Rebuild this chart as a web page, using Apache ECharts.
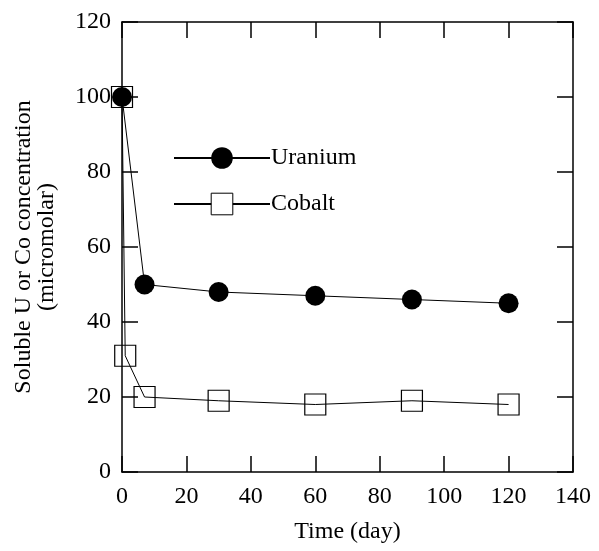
<!DOCTYPE html>
<html>
<head>
<meta charset="utf-8">
<script src="https://cdn.jsdelivr.net/npm/echarts@6/dist/echarts.min.js"></script>
<style>html,body{margin:0;padding:0;background:#fff}#c{width:599px;height:551px}</style>
</head>
<body>
<div id="c"></div>
<script>
const seriesNames = ['Uranium', 'Cobalt'];
const uraniumDays = [0, 7, 30, 60, 90, 120];
const uraniumValues = [100, 50, 48, 47, 46, 45];
const cobaltDays = [0, 1, 7, 30, 60, 90, 120];
const cobaltValues = [100, 31, 20, 19, 18, 19, 18];
const xTicks = [0, 20, 40, 60, 80, 100, 120, 140];
const yTicks = [0, 20, 40, 60, 80, 100, 120];

const FONT = 'Liberation Serif';
const FS = 24;
const chart = echarts.init(document.getElementById('c'), null, {renderer: 'canvas'});
const axisLine = {show: true, onZero: false, lineStyle: {color: '#000', width: 1.5}};
const axisTick = {show: true, inside: true, length: 16, lineStyle: {color: '#000', width: 1.5}};
const pair = (xs, ys) => xs.map((x, i) => [x, ys[i]]);

chart.setOption({
  animation: false,
  backgroundColor: '#fff',
  grid: {left: 122, right: 26, top: 22, bottom: 79, containLabel: false, outerBoundsMode: 'none'},
  legend: {
    orient: 'vertical', left: 168, top: 141,
    itemWidth: 96, itemHeight: 27, itemGap: 22,
    data: [
      {name: seriesNames[0]},
      {name: seriesNames[1], itemStyle: {color: '#fff', borderColor: '#000', borderWidth: 1}}
    ],
    textStyle: {fontFamily: FONT, fontSize: FS, color: '#000', padding: [0, 0, 0, -4]}
  },
  xAxis: [
    {type: 'value', min: xTicks[0], max: xTicks[xTicks.length - 1], interval: 20,
     axisLine, axisTick, splitLine: {show: false},
     axisLabel: {fontFamily: FONT, fontSize: FS, color: '#000', margin: 13},
     name: 'Time (day)', nameLocation: 'middle', nameGap: 48,
     nameTextStyle: {fontFamily: FONT, fontSize: FS, color: '#000'}},
    {type: 'value', position: 'top', min: 0, max: 140, interval: 20,
     axisLine, axisTick, splitLine: {show: false}, axisLabel: {show: false}}
  ],
  yAxis: [
    {type: 'value', min: yTicks[0], max: yTicks[yTicks.length - 1], interval: 20,
     axisLine, axisTick, splitLine: {show: false},
     axisLabel: {fontFamily: FONT, fontSize: FS, color: '#000', margin: 11},
     name: 'Soluble U or Co concentration\n(micromolar)', nameLocation: 'middle', nameGap: 64,
     nameTextStyle: {fontFamily: FONT, fontSize: FS, color: '#000', lineHeight: 23}},
    {type: 'value', position: 'right', min: 0, max: 120, interval: 20,
     axisLine, axisTick, splitLine: {show: false}, axisLabel: {show: false}}
  ],
  series: [
    {name: seriesNames[1], type: 'line', data: pair(cobaltDays, cobaltValues),
     symbol: 'rect', symbolSize: 21,
     lineStyle: {color: '#000', width: 1},
     itemStyle: {color: 'rgba(0,0,0,0)', borderColor: '#000', borderWidth: 1.2}, z: 2},
    {name: seriesNames[0], type: 'line', data: pair(uraniumDays, uraniumValues),
     symbol: 'circle', symbolSize: 20,
     lineStyle: {color: '#000', width: 1},
     itemStyle: {color: '#000', borderColor: '#000', borderWidth: 0}, z: 3}
  ]
});
</script>
</body>
</html>
